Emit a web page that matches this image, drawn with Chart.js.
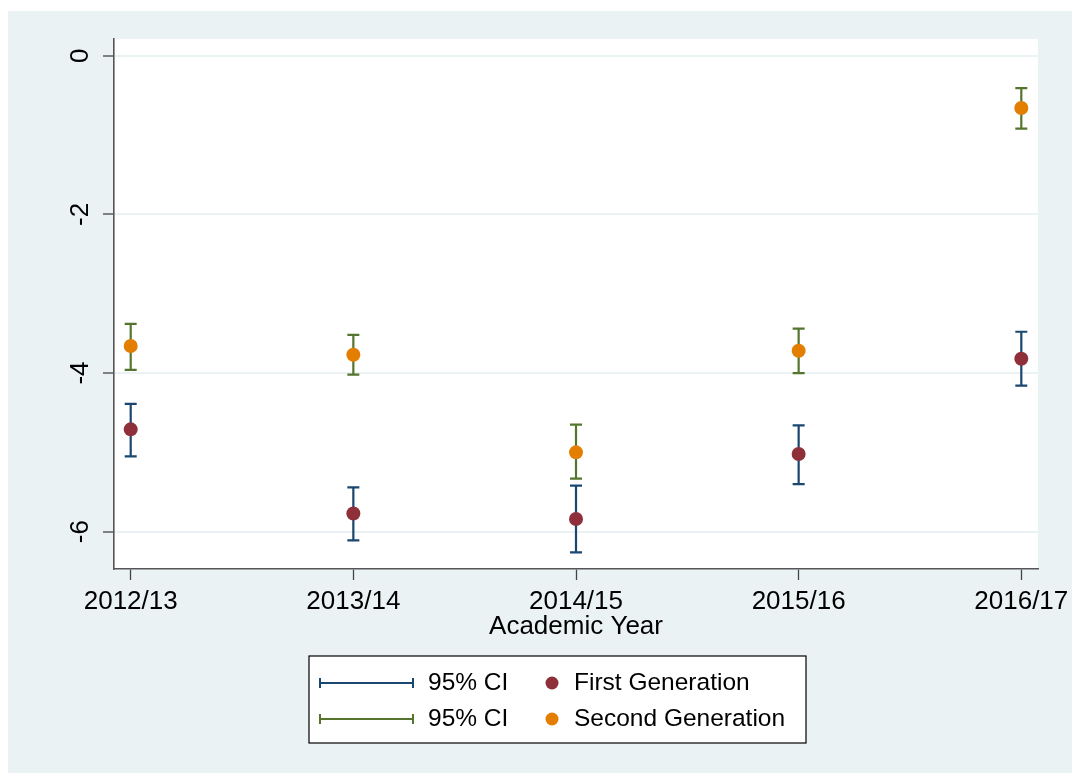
<!DOCTYPE html>
<html lang="en">
<head>
<meta charset="UTF-8">
<title>Academic Year</title>
<script src="https://cdn.jsdelivr.net/npm/chart.js@4.4.0/dist/chart.umd.min.js"></script>
<style>
  html, body { margin: 0; padding: 0; background: #fff; }
  #wrap { width: 1072px; height: 773px; }
</style>
</head>
<body>
<div id="wrap"><canvas id="c" width="1072" height="773"></canvas></div>
<script>
// academic years on the x axis
var years = ['2012/13', '2013/14', '2014/15', '2015/16', '2016/17'];
var yTicks = [0, -2, -4, -6];

// first generation: estimate and 95% CI
var firstGen   = [-4.71, -5.77, -5.84, -5.02, -3.82];
var firstLo    = [-5.05, -6.11, -6.26, -5.40, -4.16];
var firstHi    = [-4.39, -5.44, -5.42, -4.66, -3.48];

// second generation: estimate and 95% CI
var secondGen  = [-3.66, -3.77, -5.00, -3.72, -0.66];
var secondLo   = [-3.96, -4.02, -5.33, -4.00, -0.92];
var secondHi   = [-3.38, -3.52, -4.65, -3.44, -0.41];

var BG = '#eaf2f3';
var FONT = '"Liberation Sans", Arial, sans-serif';

function pts(arr) {
  return arr.map(function (v, i) { return { x: i, y: v }; });
}

// background: white page, blue-grey graph region, white plot region
var bgPlugin = {
  id: 'bg',
  beforeDraw: function (chart) {
    var ctx = chart.ctx, a = chart.chartArea;
    ctx.save();
    ctx.fillStyle = '#fff';
    ctx.fillRect(0, 0, chart.width, chart.height);
    ctx.fillStyle = BG;
    ctx.fillRect(8, 11, chart.width - 8, chart.height - 11);
    ctx.fillStyle = '#fff';
    ctx.fillRect(a.left, a.top, a.right - a.left, a.bottom - a.top);
    ctx.restore();
  }
};

// capped CI bars
var ciPlugin = {
  id: 'ci',
  beforeDatasetsDraw: function (chart) {
    var ctx = chart.ctx, xs = chart.scales.x, ys = chart.scales.y;
    function bars(lo, hi, color) {
      ctx.strokeStyle = color;
      ctx.lineWidth = 2.2;
      for (var i = 0; i < lo.length; i++) {
        var x = xs.getPixelForValue(i);
        var y1 = ys.getPixelForValue(lo[i]);
        var y2 = ys.getPixelForValue(hi[i]);
        ctx.beginPath();
        ctx.moveTo(x, y1); ctx.lineTo(x, y2);
        ctx.moveTo(x - 6, y1); ctx.lineTo(x + 6, y1);
        ctx.moveTo(x - 6, y2); ctx.lineTo(x + 6, y2);
        ctx.stroke();
      }
    }
    ctx.save();
    bars(firstLo, firstHi, '#1a476f');
    bars(secondLo, secondHi, '#55752f');
    ctx.restore();
  }
};

// rotated y labels, x labels, axis title and legend box
var textPlugin = {
  id: 'texts',
  afterDraw: function (chart) {
    var ctx = chart.ctx, xs = chart.scales.x, ys = chart.scales.y;
    ctx.save();
    ctx.fillStyle = '#000';
    ctx.font = '26px ' + FONT;
    ctx.textAlign = 'center';
    ctx.textBaseline = 'middle';
    yTicks.forEach(function (v) {
      ctx.save();
      ctx.translate(81, ys.getPixelForValue(v));
      ctx.rotate(-Math.PI / 2);
      ctx.fillText(String(v), 0, 0);
      ctx.restore();
    });
    years.forEach(function (lab, i) {
      ctx.fillText(lab, xs.getPixelForValue(i), 602);
    });
    ctx.fillText('Academic Year', (chart.chartArea.left + chart.chartArea.right) / 2, 627);

    // legend
    ctx.fillStyle = '#fff';
    ctx.fillRect(309, 656, 497, 87);
    ctx.strokeStyle = '#000';
    ctx.lineWidth = 1.2;
    ctx.strokeRect(309, 656, 497, 87);
    var rows = [
      { y: 683, ci: '#1a476f', dot: '#8f2f3a', label: 'First Generation' },
      { y: 719, ci: '#55752f', dot: '#e37e00', label: 'Second Generation' }
    ];
    ctx.font = '24.5px ' + FONT;
    ctx.textAlign = 'left';
    rows.forEach(function (r) {
      ctx.strokeStyle = r.ci;
      ctx.lineWidth = 2;
      ctx.beginPath();
      ctx.moveTo(320, r.y); ctx.lineTo(413, r.y);
      ctx.moveTo(320, r.y - 5); ctx.lineTo(320, r.y + 5);
      ctx.moveTo(413, r.y - 5); ctx.lineTo(413, r.y + 5);
      ctx.stroke();
      ctx.fillStyle = '#000';
      ctx.fillText('95% CI', 428, r.y);
      ctx.fillStyle = r.dot;
      ctx.beginPath();
      ctx.arc(552, r.y, 6.5, 0, Math.PI * 2);
      ctx.fill();
      ctx.fillStyle = '#000';
      ctx.fillText(r.label, 574, r.y);
    });
    ctx.restore();
  }
};

new Chart(document.getElementById('c'), {
  type: 'scatter',
  data: {
    datasets: [
      { label: 'First Generation', data: pts(firstGen), backgroundColor: '#8f2f3a',
        borderColor: '#8f2f3a', pointRadius: 7, pointHoverRadius: 7, borderWidth: 0 },
      { label: 'Second Generation', data: pts(secondGen), backgroundColor: '#e37e00',
        borderColor: '#e37e00', pointRadius: 7, pointHoverRadius: 7, borderWidth: 0 }
    ]
  },
  options: {
    responsive: false,
    animation: false,
    layout: { padding: { left: 0, top: 39, right: 34, bottom: 0 } },
    plugins: { legend: { display: false }, tooltip: { enabled: false } },
    scales: {
      x: {
        type: 'linear',
        min: -0.075, max: 4.075,
        afterBuildTicks: function (s) { s.ticks = years.map(function (y, i) { return { value: i }; }); },
        afterFit: function (s) { s.height = 204; },
        ticks: { display: false },
        grid: { drawOnChartArea: false, drawTicks: true, tickLength: 11, tickColor: '#444', tickWidth: 1.3 },
        border: { display: true, color: '#555', width: 1.6 }
      },
      y: {
        min: -6.47, max: 0.21,
        afterBuildTicks: function (s) { s.ticks = yTicks.map(function (v) { return { value: v }; }); },
        afterFit: function (s) { s.width = 114; },
        ticks: { display: false },
        grid: { color: BG, lineWidth: 2, drawTicks: true, tickLength: 11, tickColor: '#444', tickWidth: 1.3 },
        border: { display: true, color: '#555', width: 1.6 }
      }
    }
  },
  plugins: [bgPlugin, ciPlugin, textPlugin]
});
</script>
</body>
</html>
